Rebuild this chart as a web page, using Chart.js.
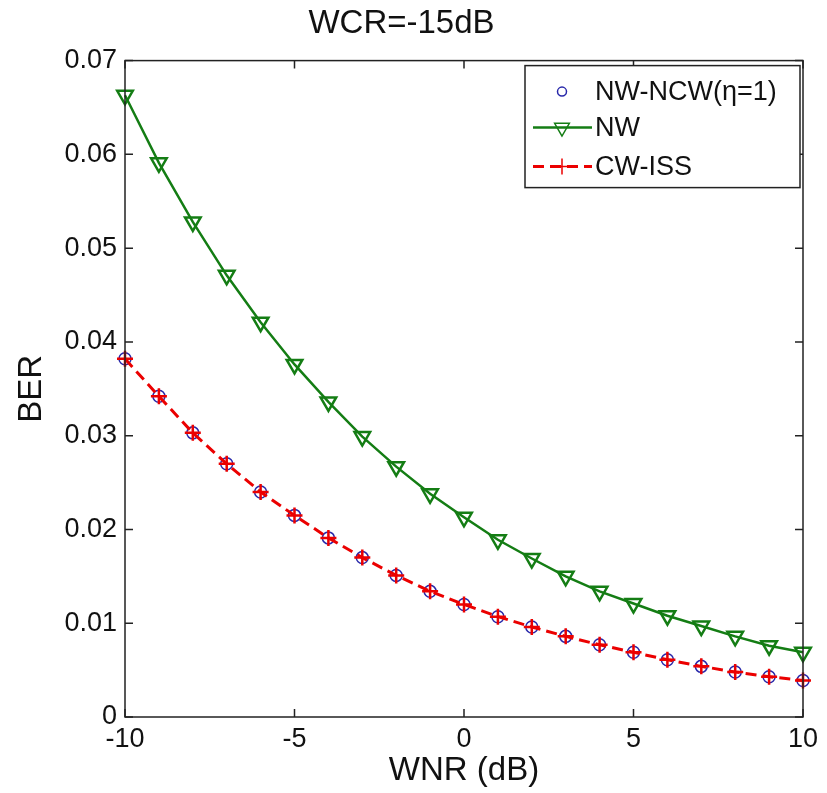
<!DOCTYPE html>
<html>
<head>
<meta charset="utf-8">
<title>WCR=-15dB</title>
<script src="https://cdn.jsdelivr.net/npm/chart.js@4.4.1/dist/chart.umd.min.js"></script>
<style>
  body { margin: 0; background: #fff; }
  #wrap { width: 827px; height: 793px; }
</style>
</head>
<body>
<div id="wrap"><canvas id="Chart" width="827" height="793"></canvas></div>
<script>
// WNR (dB) on the x axis
const wnr = [-10, -9, -8, -7, -6, -5, -4, -3, -2, -1, 0, 1, 2, 3, 4, 5, 6, 7, 8, 9, 10];

// BER values
const berNWNCW = [0.0382, 0.0342, 0.0303, 0.0270, 0.0240, 0.0215, 0.0191, 0.0170, 0.0151, 0.0134, 0.0120,
                  0.0107, 0.0096, 0.0086, 0.0077, 0.0069, 0.0061, 0.0054, 0.0048, 0.0043, 0.0039];
const berNW    = [0.0663, 0.0591, 0.0528, 0.0471, 0.0421, 0.0376, 0.0336, 0.0299, 0.0267, 0.0238, 0.0213,
                  0.0189, 0.0169, 0.0150, 0.0134, 0.0121, 0.0108, 0.0097, 0.0086, 0.0076, 0.0069];
const berCWISS = [0.0382, 0.0342, 0.0303, 0.0270, 0.0240, 0.0215, 0.0191, 0.0170, 0.0151, 0.0134, 0.0120,
                  0.0107, 0.0096, 0.0086, 0.0077, 0.0069, 0.0061, 0.0054, 0.0048, 0.0043, 0.0039];

// tick labels
const xTicks = [-10, -5, 0, 5, 10];
const yTicks = [0, 0.01, 0.02, 0.03, 0.04, 0.05, 0.06, 0.07];

const FONT = "'Liberation Sans', Arial, Helvetica, sans-serif";
const GREEN = 'rgb(20,125,20)';
const RED = 'rgb(235,0,0)';
const BLUE = 'rgb(40,40,170)';

function toPoints(ys) {
    return wnr.map((x, i) => ({ x: x, y: ys[i] }));
}

// matlab style box with inward ticks on all four sides
const boxFrame = {
    id: 'boxFrame',
    afterDatasetsDraw(chart) {
        const { ctx, chartArea: a, scales } = chart;
        const tl = 8;
        ctx.save();
        ctx.strokeStyle = '#222';
        ctx.lineWidth = 1.5;
        ctx.strokeRect(a.left, a.top, a.right - a.left, a.bottom - a.top);
        ctx.beginPath();
        xTicks.forEach(v => {
            const px = scales.x.getPixelForValue(v);
            ctx.moveTo(px, a.bottom); ctx.lineTo(px, a.bottom - tl);
            ctx.moveTo(px, a.top); ctx.lineTo(px, a.top + tl);
        });
        yTicks.forEach(v => {
            const py = scales.y.getPixelForValue(v);
            ctx.moveTo(a.left, py); ctx.lineTo(a.left + tl, py);
            ctx.moveTo(a.right, py); ctx.lineTo(a.right - tl, py);
        });
        ctx.stroke();
        ctx.restore();
    }
};

// legend box in the top right corner of the axes
const boxLegend = {
    id: 'boxLegend',
    afterDraw(chart) {
        const { ctx, chartArea: a } = chart;
        const w = 275, h = 122;
        const x0 = a.right - 3 - w, y0 = a.top + 5;
        ctx.save();
        ctx.fillStyle = '#fff';
        ctx.fillRect(x0, y0, w, h);
        ctx.strokeStyle = '#222';
        ctx.lineWidth = 1.5;
        ctx.strokeRect(x0, y0, w, h);

        const rows = [y0 + 26, y0 + 62, y0 + 101];
        const lineX1 = x0 + 8, lineX2 = x0 + 67, mx = x0 + 37, textX = x0 + 70;
        chart.data.datasets.forEach((ds, i) => {
            const y = rows[i];
            if (ds.showLine !== false) {
                ctx.save();
                ctx.strokeStyle = ds.borderColor;
                ctx.lineWidth = ds.borderWidth;
                ctx.setLineDash(ds.borderDash || []);
                ctx.beginPath();
                ctx.moveTo(lineX1, y);
                ctx.lineTo(lineX2, y);
                ctx.stroke();
                ctx.restore();
            }
            ctx.save();
            ctx.strokeStyle = ds.pointBorderColor;
            ctx.fillStyle = 'rgba(0,0,0,0)';
            Chart.helpers.drawPoint(ctx, {
                pointStyle: ds.pointStyle,
                rotation: ds.pointRotation || 0,
                radius: ds.legendRadius,
                borderWidth: ds.pointBorderWidth
            }, mx, y);
            ctx.restore();
            ctx.fillStyle = '#111';
            ctx.font = '27px ' + FONT;
            ctx.textBaseline = 'middle';
            ctx.textAlign = 'left';
            ctx.fillText(ds.label, textX, y + 1);
        });
        ctx.restore();
    }
};

const ctx = document.getElementById('Chart').getContext('2d');
const berChart = new Chart(ctx, {
    type: 'line',
    data: {
        datasets: [
            {
                label: 'NW-NCW(\u03b7=1)',
                data: toPoints(berNWNCW),
                showLine: false,
                borderColor: BLUE,
                pointStyle: 'circle',
                pointRadius: 6,
                legendRadius: 4.5,
                pointBorderColor: BLUE,
                pointBackgroundColor: 'rgba(0,0,0,0)',
                pointBorderWidth: 1.5,
                order: 3,
                clip: false
            },
            {
                label: 'NW',
                data: toPoints(berNW),
                borderColor: GREEN,
                borderWidth: 2.5,
                tension: 0,
                pointStyle: 'triangle',
                pointRotation: 180,
                pointRadius: 9,
                legendRadius: 8.5,
                pointBorderColor: GREEN,
                pointBackgroundColor: 'rgba(0,0,0,0)',
                pointBorderWidth: 2.5,
                order: 2,
                clip: false
            },
            {
                label: 'CW-ISS',
                data: toPoints(berCWISS),
                borderColor: RED,
                borderWidth: 3,
                borderDash: [11, 6],
                tension: 0,
                pointStyle: 'cross',
                pointRadius: 8,
                legendRadius: 8,
                pointBorderColor: RED,
                pointBackgroundColor: RED,
                pointBorderWidth: 2.5,
                order: 1,
                clip: false
            }
        ]
    },
    options: {
        responsive: false,
        animation: false,
        devicePixelRatio: 1,
        layout: { padding: { left: 0, right: 24, top: 0, bottom: 0 } },
        plugins: {
            legend: { display: false },
            tooltip: { enabled: false },
            title: {
                display: true,
                text: 'WCR=-15dB',
                color: '#111',
                font: { family: FONT, size: 33, weight: 'normal', lineHeight: 1.2 },
                padding: { top: 4, bottom: 17 }
            }
        },
        scales: {
            x: {
                type: 'linear',
                min: -10,
                max: 10,
                afterBuildTicks: scale => { scale.ticks = xTicks.map(v => ({ value: v })); },
                afterFit: scale => { scale.height = 76; },
                grid: { display: false, drawTicks: false },
                border: { display: false },
                ticks: {
                    color: '#111',
                    padding: 6,
                    maxRotation: 0,
                    font: { family: FONT, size: 27 },
                    callback: v => String(v)
                },
                title: {
                    display: true,
                    text: 'WNR (dB)',
                    color: '#111',
                    font: { family: FONT, size: 33, lineHeight: 1.2 },
                    padding: { top: 0, bottom: 2 }
                }
            },
            y: {
                type: 'linear',
                min: 0,
                max: 0.07,
                afterBuildTicks: scale => { scale.ticks = yTicks.map(v => ({ value: v })); },
                afterFit: scale => { scale.width = 125; },
                grid: { display: false, drawTicks: false },
                border: { display: false },
                ticks: {
                    color: '#111',
                    padding: 8,
                    font: { family: FONT, size: 27 },
                    callback: v => (v === 0 ? '0' : v.toFixed(2))
                },
                title: {
                    display: true,
                    text: 'BER',
                    color: '#111',
                    font: { family: FONT, size: 33, lineHeight: 1.2 },
                    padding: { top: 12, bottom: 0 }
                }
            }
        }
    },
    plugins: [boxFrame, boxLegend]
});
</script>
</body>
</html>
